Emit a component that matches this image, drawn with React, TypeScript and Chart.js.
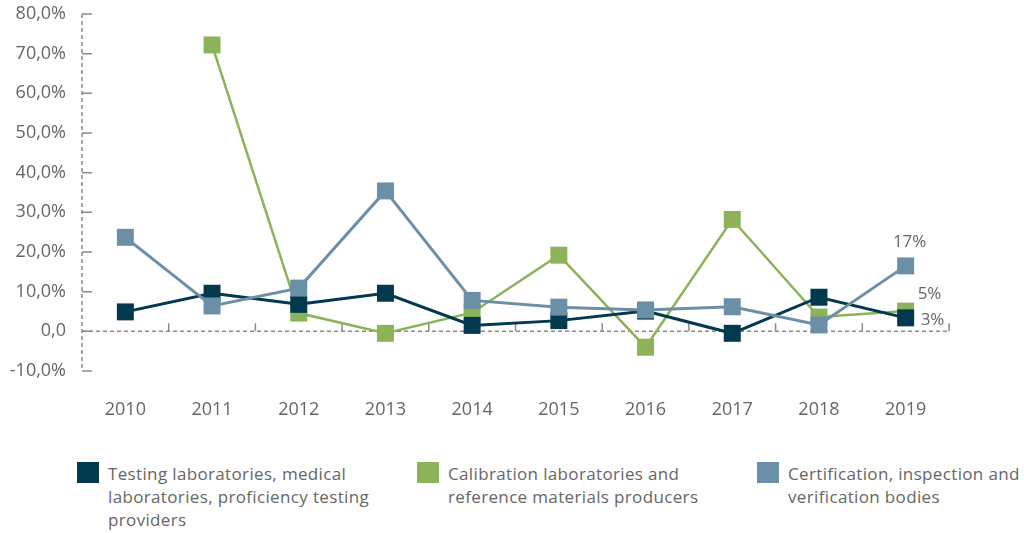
import React, { useEffect, useRef } from "react";
import { Chart, registerables } from "chart.js";

Chart.register(...registerables);

const years = ["2010", "2011", "2012", "2013", "2014", "2015", "2016", "2017", "2018", "2019"];
const testing = [4.9, 9.6, 6.8, 9.6, 1.5, 2.7, 5.1, -0.5, 8.6, 3.4];
const calibration = [null, 72.2, 4.6, -0.5, 4.7, 19.2, -4.0, 28.2, 3.6, 5.1];
const certification = [23.7, 6.4, 10.9, 35.4, 7.8, 6.1, 5.4, 6.2, 1.6, 16.5];
const endLabels = ["3%", "5%", "17%"];
const seriesNames = [
  "Testing laboratories, medical\nlaboratories, proficiency testing\nproviders",
  "Calibration laboratories and\nreference materials producers",
  "Certification, inspection and\nverification bodies",
];
const colors = ["#02394e", "#8cb35a", "#6c8fa8"];
const Y_MIN = -10;
const Y_MAX = 80;
const Y_STEP = 10;

const FONT = "'Open Sans', 'Noto Sans', sans-serif";
const GREY = "#666666";

const axesPlugin = {
  id: "customAxes",
  beforeDatasetsDraw(chart: any) {
    const { ctx, chartArea, scales } = chart;
    const x = scales.x;
    const y = scales.y;
    const y0 = y.getPixelForValue(0);
    const step = x.getPixelForValue(1) - x.getPixelForValue(0);
    ctx.save();
    ctx.strokeStyle = "#8a8a8a";
    ctx.lineWidth = 1.5;
    ctx.setLineDash([4, 3]);
    ctx.beginPath();
    ctx.moveTo(chartArea.left, y.getPixelForValue(Y_MAX));
    ctx.lineTo(chartArea.left, y.getPixelForValue(Y_MIN));
    ctx.moveTo(chartArea.left, y0);
    ctx.lineTo(chartArea.right, y0);
    ctx.stroke();
    ctx.setLineDash([]);
    ctx.beginPath();
    for (let v = Y_MIN; v <= Y_MAX; v += Y_STEP) {
      const py = y.getPixelForValue(v);
      ctx.moveTo(chartArea.left, py);
      ctx.lineTo(chartArea.left + 10, py);
    }
    for (let i = 0; i < years.length; i++) {
      const px = x.getPixelForValue(i) + step / 2;
      ctx.moveTo(px, y0);
      ctx.lineTo(px, y0 - 8);
    }
    ctx.stroke();
    ctx.restore();
  },
  afterDatasetsDraw(chart: any) {
    const { ctx } = chart;
    ctx.save();
    ctx.font = `17px ${FONT}`;
    ctx.fillStyle = GREY;
    ctx.textBaseline = "middle";
    const last = years.length - 1;
    const pCert = chart.getDatasetMeta(0).data[last];
    const pTest = chart.getDatasetMeta(1).data[last];
    const pCal = chart.getDatasetMeta(2).data[last];
    ctx.textAlign = "center";
    ctx.fillText(endLabels[2], pCert.x + 4, pCert.y - 24);
    ctx.textAlign = "left";
    ctx.fillText(endLabels[1], pCal.x + 12, pCal.y - 17);
    ctx.fillText(endLabels[0], pTest.x + 15, pTest.y + 2);
    ctx.restore();
  },
};

function fmt(v: number) {
  if (v === 0) return "0,0";
  return v.toFixed(1).replace(".", ",") + "%";
}

export default function App() {
  const ref = useRef<HTMLCanvasElement | null>(null);
  useEffect(() => {
    document.body.style.margin = "0";
    if (!ref.current) return;
    const mk = (label: string, data: (number | null)[], color: string, width: number) => ({
      label,
      data,
      borderColor: color,
      backgroundColor: color,
      pointBackgroundColor: color,
      pointBorderWidth: 0,
      pointStyle: "rect",
      pointRadius: 12,
      borderWidth: width,
      spanGaps: false,
      tension: 0,
    });
    const chart = new Chart(ref.current, {
      type: "line",
      data: {
        labels: years,
        datasets: [
          mk(seriesNames[2], certification, colors[2], 3),
          mk(seriesNames[0], testing, colors[0], 3),
          mk(seriesNames[1], calibration, colors[1], 2.5),
        ] as any,
      },
      plugins: [axesPlugin],
      options: {
        animation: false,
        responsive: false,
        events: [],
        layout: { padding: { left: 0, right: 75, top: 14, bottom: 0 } },
        plugins: { legend: { display: false }, tooltip: { enabled: false } },
        scales: {
          x: {
            offset: true,
            grid: { display: false, drawTicks: false },
            border: { display: false },
            ticks: { color: GREY, font: { family: FONT, size: 18 }, padding: 28 },
            afterFit: (s: any) => {
              s.height = 440 - 371;
              s.paddingLeft = 0;
              s.paddingRight = 0;
            },
          },
          y: {
            min: Y_MIN,
            max: Y_MAX,
            grid: { display: false, drawTicks: false },
            border: { display: false },
            ticks: {
              stepSize: Y_STEP,
              color: GREY,
              font: { family: FONT, size: 18 },
              padding: 16,
              callback: (v: any) => fmt(Number(v)),
            },
            afterFit: (s: any) => {
              s.width = 82;
              s.paddingTop = 0;
              s.paddingBottom = 0;
            },
          },
        },
      } as any,
    });
    return () => chart.destroy();
  }, []);

  const legendX = [77, 417, 757];
  return (
    <div style={{ position: "absolute", left: 0, top: 0, width: 1024, height: 533, background: "#fff" }}>
      <canvas ref={ref} width={1024} height={440} style={{ display: "block" }} />
      {seriesNames.map((name, i) => (
        <div
          key={i}
          style={{ position: "absolute", left: legendX[i], top: 462, display: "flex", alignItems: "flex-start" }}
        >
          <div style={{ width: 22, height: 21, background: colors[i], flex: "none" }} />
          <div
            style={{
              marginLeft: 9,
              marginTop: 0,
              font: `17px ${FONT}`,
              letterSpacing: "0.35px",
              lineHeight: "23px",
              color: GREY,
              whiteSpace: "pre-line",
            }}
          >
            {name}
          </div>
        </div>
      ))}
    </div>
  );
}
